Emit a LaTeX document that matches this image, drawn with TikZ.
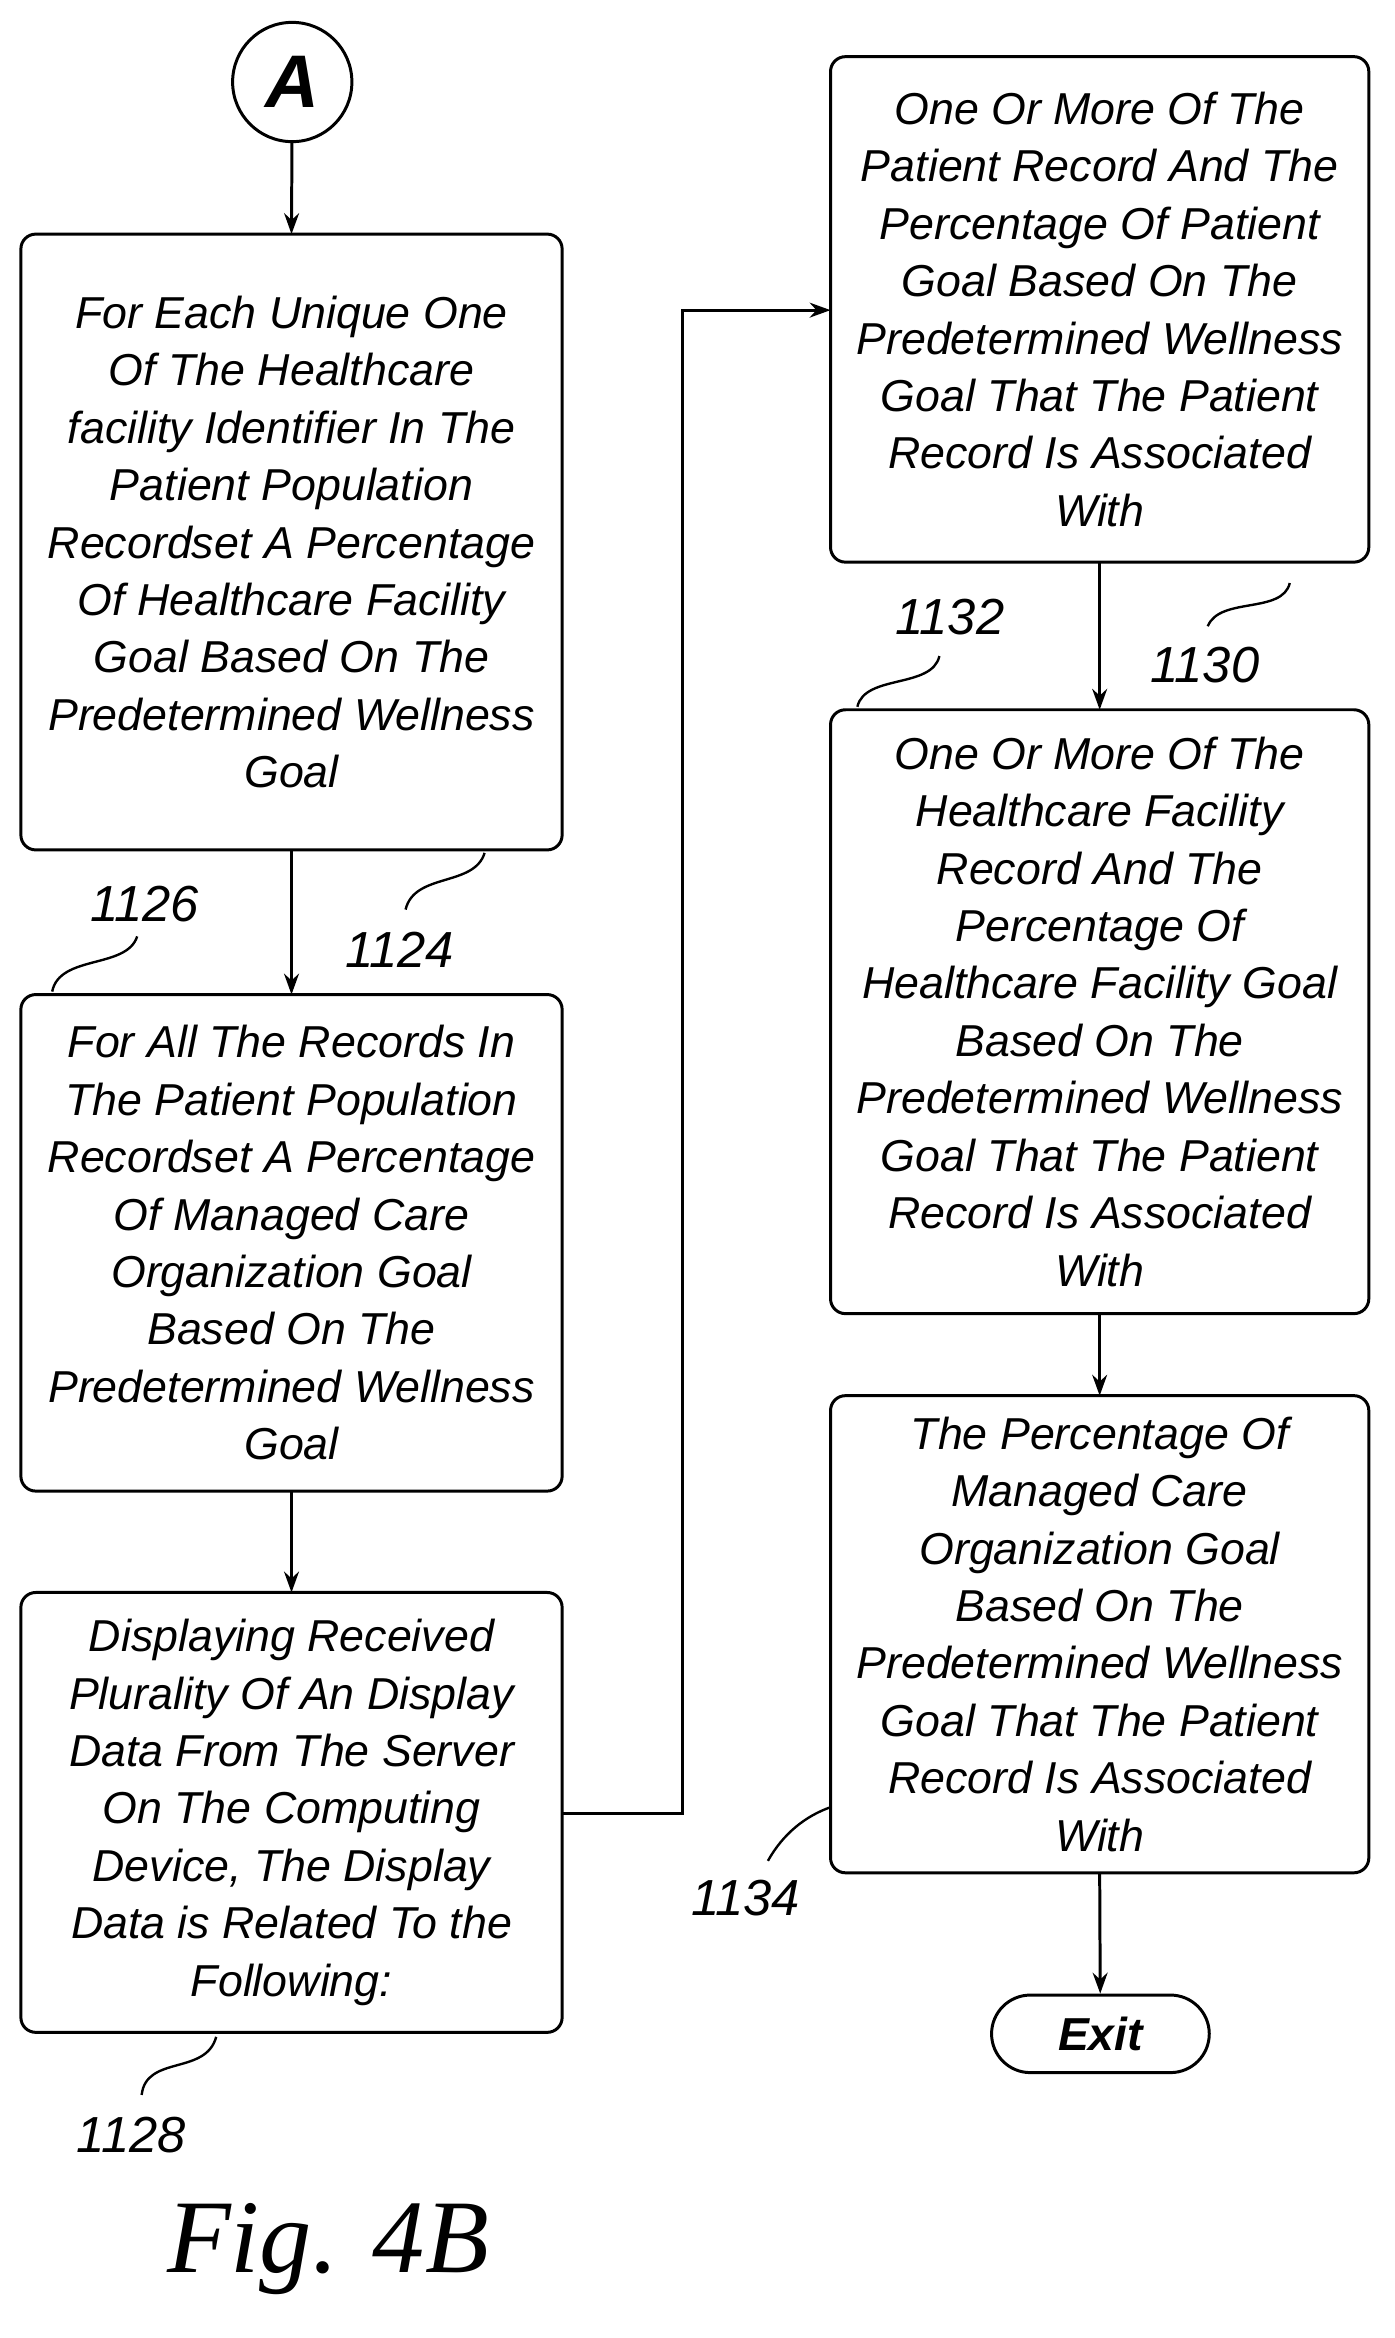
\documentclass[tikz,border=0pt]{standalone}
\usepackage{fontspec}
\setmainfont{Liberation Sans}
\newfontfamily\figfont{Liberation Serif}
\usetikzlibrary{arrows.meta}
\begin{document}
\begin{tikzpicture}[x=1pt,y=-1pt,
 box/.style={align=center,inner sep=0pt,
   font=\fontsize{30}{38.5}\selectfont\itshape},
 arr/.style={line width=2pt,-{Stealth[length=14pt,width=10pt]}},
 lead/.style={line width=1.6pt},
 num/.style={font=\fontsize{34}{36}\selectfont\itshape}]
\useasboundingbox (0,0) rectangle (935,1568);
\node[draw,circle,line width=2pt,minimum size=80pt,inner sep=0pt,font=\fontsize{50}{50}\selectfont\bfseries\itshape] (A) at (196,55) {A};
\draw[line width=2pt,rounded corners=10pt] (14,157) rectangle (377,570);
\node[box] (b1124) at (195.5,363.5) {For Each Unique One\\Of The Healthcare\\facility Identifier In The\\Patient Population\\Recordset A Percentage\\Of Healthcare Facility\\Goal Based On The\\Predetermined Wellness\\Goal};
\coordinate (t1124) at (195.5,157); \coordinate (d1124) at (195.5,570);
\draw[line width=2pt,rounded corners=10pt] (14,667) rectangle (377,1000);
\node[box] (b1126) at (195.5,833.5) {For All The Records In\\The Patient Population\\Recordset A Percentage\\Of Managed Care\\Organization Goal\\Based On The\\Predetermined Wellness\\Goal};
\coordinate (t1126) at (195.5,667); \coordinate (d1126) at (195.5,1000);
\draw[line width=2pt,rounded corners=10pt] (14,1068) rectangle (377,1363);
\node[box] (b1128) at (195.5,1215.5) {Displaying Received\\Plurality Of An Display\\Data From The Server\\On The Computing\\Device, The Display\\Data is Related To the\\Following:};
\coordinate (t1128) at (195.5,1068); \coordinate (r1128) at (377,1216);
\draw[line width=2pt,rounded corners=10pt] (557,38) rectangle (918,377);
\node[box] (b1130) at (737.5,207.5) {One Or More Of The\\Patient Record And The\\Percentage Of Patient\\Goal Based On The\\Predetermined Wellness\\Goal That The Patient\\Record Is Associated\\With};
\coordinate (l1130) at (557,208); \coordinate (d1130) at (737.5,377);
\draw[line width=2pt,rounded corners=10pt] (557,476) rectangle (918,881);
\node[box] (b1132) at (737.5,678.5) {One Or More Of The\\Healthcare Facility\\Record And The\\Percentage Of\\Healthcare Facility Goal\\Based On The\\Predetermined Wellness\\Goal That The Patient\\Record Is Associated\\With};
\coordinate (t1132) at (737.5,476); \coordinate (d1132) at (737.5,881);
\draw[line width=2pt,rounded corners=10pt] (557,936) rectangle (918,1256);
\node[box] (b1134) at (737.5,1096) {The Percentage Of\\Managed Care\\Organization Goal\\Based On The\\Predetermined Wellness\\Goal That The Patient\\Record Is Associated\\With};
\coordinate (t1134) at (737.5,936); \coordinate (d1134) at (737.5,1256);
\node[draw,line width=2pt,rounded corners=26pt,minimum width=146pt,minimum height=52pt,font=\fontsize{31}{31}\selectfont\bfseries\itshape] (exit) at (738,1364) {Exit};
\draw[arr] (A) -- (t1124);
\draw[arr] (d1124) -- (t1126);
\draw[arr] (d1126) -- (t1128);
\draw[arr] (r1128) -- (458,1216) -- (458,208) -- (l1130);
\draw[arr] (d1130) -- (t1132);
\draw[arr] (d1132) -- (t1134);
\draw[arr] (d1134) -- (exit);
\node[num] (n1124) at (268,637) {1124};
\node[num] (n1126) at (97,606) {1126};
\node[num] (n1128) at (88,1432) {1128};
\node[num] (n1130) at (808,446) {1130};
\node[num] (n1132) at (637,414) {1132};
\node[num] (n1134) at (500,1273) {1134};
\draw[lead] (325,572) .. controls (318,595) and (278,585) .. (272,610);
\draw[lead] (35,665) .. controls (40,640) and (85,650) .. (92,628);
\draw[lead] (145,1366) .. controls (138,1392) and (98,1378) .. (95,1405);
\draw[lead] (865,391) .. controls (860,412) and (818,400) .. (810,420);
\draw[lead] (575,474) .. controls (580,452) and (625,462) .. (630,440);
\draw[lead] (557,1212) .. controls (540,1218) and (525,1230) .. (515,1248);
\node[font=\figfont\fontsize{70}{70}\selectfont\itshape] (fig) at (220,1508) {Fig. 4B};
\end{tikzpicture}
\end{document}
